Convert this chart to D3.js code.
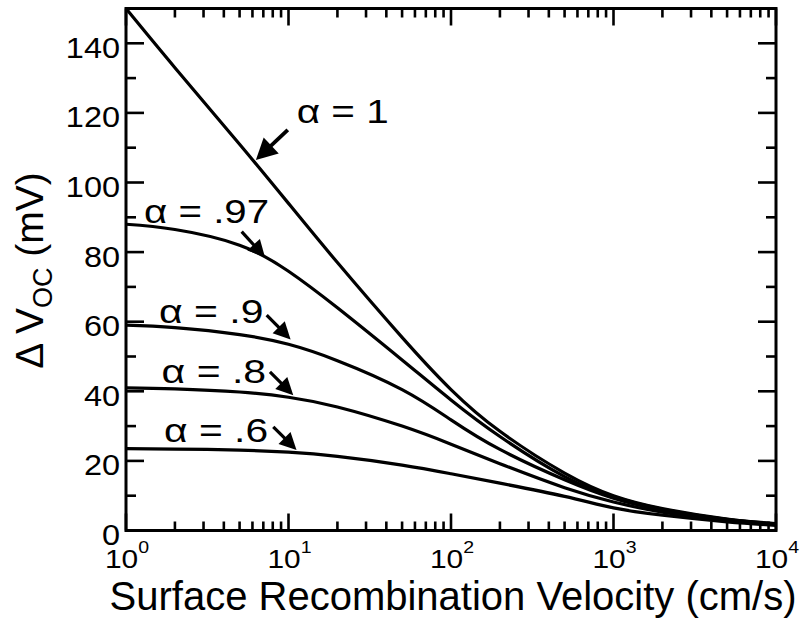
<!DOCTYPE html>
<html>
<head>
<meta charset="utf-8">
<script src="https://cdn.jsdelivr.net/npm/d3@7"></script>
<style>
  html, body { margin: 0; padding: 0; background: #fff; }
  svg { display: block; }
  text { font-family: "Liberation Sans", Arial, Helvetica, sans-serif; fill: #000; }
</style>
</head>
<body>
<svg id="chart" width="802" height="622"></svg>
<script>
// Surface recombination velocity (cm/s)
const velocity = [1, 2, 5, 10, 20, 50, 100, 200, 500, 1000, 2000, 5000, 10000];

// Open-circuit voltage gain (mV) for each alpha
const dVocAlpha100 = [150, 133, 111, 94, 77, 55.5, 40.5, 28.5, 16.5, 10, 6.3, 3.3, 2.0];
const dVocAlpha097 = [88, 86.5, 82, 74.5, 64, 49, 37.5, 27, 15.5, 9.7, 6.1, 3.2, 1.9];
const dVocAlpha090 = [59, 58.3, 56.3, 53.5, 48.8, 40.5, 31.8, 23.3, 14.6, 9.3, 5.9, 3.1, 1.85];
const dVocAlpha080 = [41, 40.7, 39.8, 38.3, 35.5, 30, 24.8, 19.2, 12.3, 8.2, 5.3, 2.9, 1.75];
const dVocAlpha060 = [23.5, 23.4, 23.1, 22.5, 21.3, 18.8, 16.3, 13.6, 9.8, 6.5, 4.4, 2.5, 1.5];

const alphaLabels = ["1", ".97", ".9", ".8", ".6"];
const seriesValues = [dVocAlpha100, dVocAlpha097, dVocAlpha090, dVocAlpha080, dVocAlpha060];

// Axis ticks
const xTickExponents = [0, 1, 2, 3, 4];
const yTickValues = [0, 20, 40, 60, 80, 100, 120, 140];
const yMinorValues = [10, 30, 50, 70, 90, 110, 130, 150];

// Annotation anchors in data units: label start, arrow tail, arrow tip; label width in px
const annotations = [
  { text: alphaLabels[0], label: [11.4, 117.2], tail: [9.9, 115.1], tip: [6.3, 106.5], width: 92, big: true },
  { text: alphaLabels[1], label: [1.31, 88.4],  tail: [5.15, 85.9], tip: [7.17, 78.5], width: 125 },
  { text: alphaLabels[2], label: [1.62, 59.7],  tail: [7.34, 61.9], tip: [10.3, 54.9], width: 104.5 },
  { text: alphaLabels[3], label: [1.68, 42.5],  tail: [7.69, 45.6], tip: [10.7, 38.9], width: 104.5 },
  { text: alphaLabels[4], label: [1.74, 25.5],  tail: [8.06, 29.8], tip: [11.2, 23.1], width: 104 }
];

const svg = d3.select("#chart");
const plotL = 126, plotR = 776, plotT = 8.5, plotB = 530.5;

const x = d3.scaleLog().domain([1, 1e4]).range([plotL, plotR]);
const y = d3.scaleLinear().domain([0, 150]).range([plotB, plotT]);

svg.append("rect").attr("width", 802).attr("height", 622).attr("fill", "#fff");

// clip for curves
svg.append("clipPath").attr("id", "plotClip")
  .append("rect").attr("x", plotL).attr("y", plotT).attr("width", plotR - plotL).attr("height", plotB - plotT);

// Curves
const line = d3.line()
  .x((d, i) => x(velocity[i]))
  .y(d => y(d))
  .curve(d3.curveNatural);

svg.append("g").attr("clip-path", "url(#plotClip)")
  .selectAll("path")
  .data(seriesValues)
  .join("path")
  .attr("d", d => line(d))
  .attr("fill", "none")
  .attr("stroke", "#000")
  .attr("stroke-width", 3.2)
  .attr("stroke-linejoin", "round");

// Ticks (inward on all four sides)
const ticks = svg.append("g").attr("stroke", "#000").attr("stroke-width", 2.6);
const xMinor = [];
for (let e = 0; e < 4; e++) for (let m = 2; m <= 9; m++) xMinor.push(m * Math.pow(10, e));
const xMajor = xTickExponents.map(e => Math.pow(10, e));

xMajor.forEach(v => {
  ticks.append("line").attr("x1", x(v)).attr("x2", x(v)).attr("y1", plotB).attr("y2", plotB - 17);
  ticks.append("line").attr("x1", x(v)).attr("x2", x(v)).attr("y1", plotT).attr("y2", plotT + 17);
});
xMinor.forEach(v => {
  ticks.append("line").attr("x1", x(v)).attr("x2", x(v)).attr("y1", plotB).attr("y2", plotB - 9);
  ticks.append("line").attr("x1", x(v)).attr("x2", x(v)).attr("y1", plotT).attr("y2", plotT + 9);
});
yTickValues.forEach(v => {
  ticks.append("line").attr("x1", plotL).attr("x2", plotL + 18).attr("y1", y(v)).attr("y2", y(v));
  ticks.append("line").attr("x1", plotR).attr("x2", plotR - 18).attr("y1", y(v)).attr("y2", y(v));
});
yMinorValues.forEach(v => {
  ticks.append("line").attr("x1", plotL).attr("x2", plotL + 10).attr("y1", y(v)).attr("y2", y(v));
  ticks.append("line").attr("x1", plotR).attr("x2", plotR - 10).attr("y1", y(v)).attr("y2", y(v));
});

// Frame
svg.append("rect")
  .attr("x", plotL).attr("y", plotT).attr("width", plotR - plotL).attr("height", plotB - plotT)
  .attr("fill", "none").attr("stroke", "#000").attr("stroke-width", 3);

// Y tick labels (slightly wide lettering)
svg.append("g").selectAll("text")
  .data(yTickValues)
  .join("text")
  .attr("transform", d => `translate(${plotL - 6},${y(d) + 14.5}) scale(1.12,1)`)
  .attr("text-anchor", "end")
  .attr("font-size", 29)
  .text(d => d);

// X tick labels: powers of ten
const xl = svg.append("g").selectAll("text")
  .data(xTickExponents)
  .join("text")
  .attr("transform", d => `translate(${x(Math.pow(10, d)) + 1},568) scale(1.15,1)`)
  .attr("text-anchor", "middle")
  .attr("font-size", 26);
xl.append("tspan").text("10");
xl.append("tspan").attr("font-size", 17).attr("dy", -15).text(d => d);

// Axis titles
svg.append("text")
  .attr("x", 453)
  .attr("y", 610)
  .attr("text-anchor", "middle")
  .attr("font-size", 40)
  .text("Surface Recombination Velocity (cm/s)");

const yt = svg.append("text")
  .attr("transform", "translate(43,270.5) rotate(-90)")
  .attr("text-anchor", "middle")
  .attr("font-size", 39);
yt.append("tspan").text("\u0394 V");
yt.append("tspan").attr("font-size", 27).attr("dy", 9).text("OC");
yt.append("tspan").attr("dy", -9).text(" (mV)");

// Annotations
function arrow(g, tail, tip, headLen, headW, width) {
  const x0 = x(tail[0]), y0 = y(tail[1]), x1 = x(tip[0]), y1 = y(tip[1]);
  const dx = x1 - x0, dy = y1 - y0, len = Math.hypot(dx, dy);
  const ux = dx / len, uy = dy / len;
  const bx = x1 - ux * headLen, by = y1 - uy * headLen;
  g.append("line").attr("x1", x0).attr("y1", y0).attr("x2", bx + ux * 2).attr("y2", by + uy * 2)
    .attr("stroke", "#000").attr("stroke-width", width);
  g.append("path")
    .attr("d", `M${x1},${y1}L${bx - uy * headW / 2},${by + ux * headW / 2}L${bx + uy * headW / 2},${by - ux * headW / 2}Z`)
    .attr("fill", "#000");
}

const ann = svg.append("g");
annotations.forEach(a => {
  ann.append("text")
    .attr("x", x(a.label[0]) - 1)
    .attr("y", y(a.label[1]))
    .attr("font-size", 34)
    .attr("textLength", a.width)
    .attr("lengthAdjust", "spacingAndGlyphs")
    .text("\u03B1 = " + a.text);
  if (a.big) arrow(ann, a.tail, a.tip, 21, 22, 3.8);
  else arrow(ann, a.tail, a.tip, 17, 17, 3.2);
});
</script>
</body>
</html>
